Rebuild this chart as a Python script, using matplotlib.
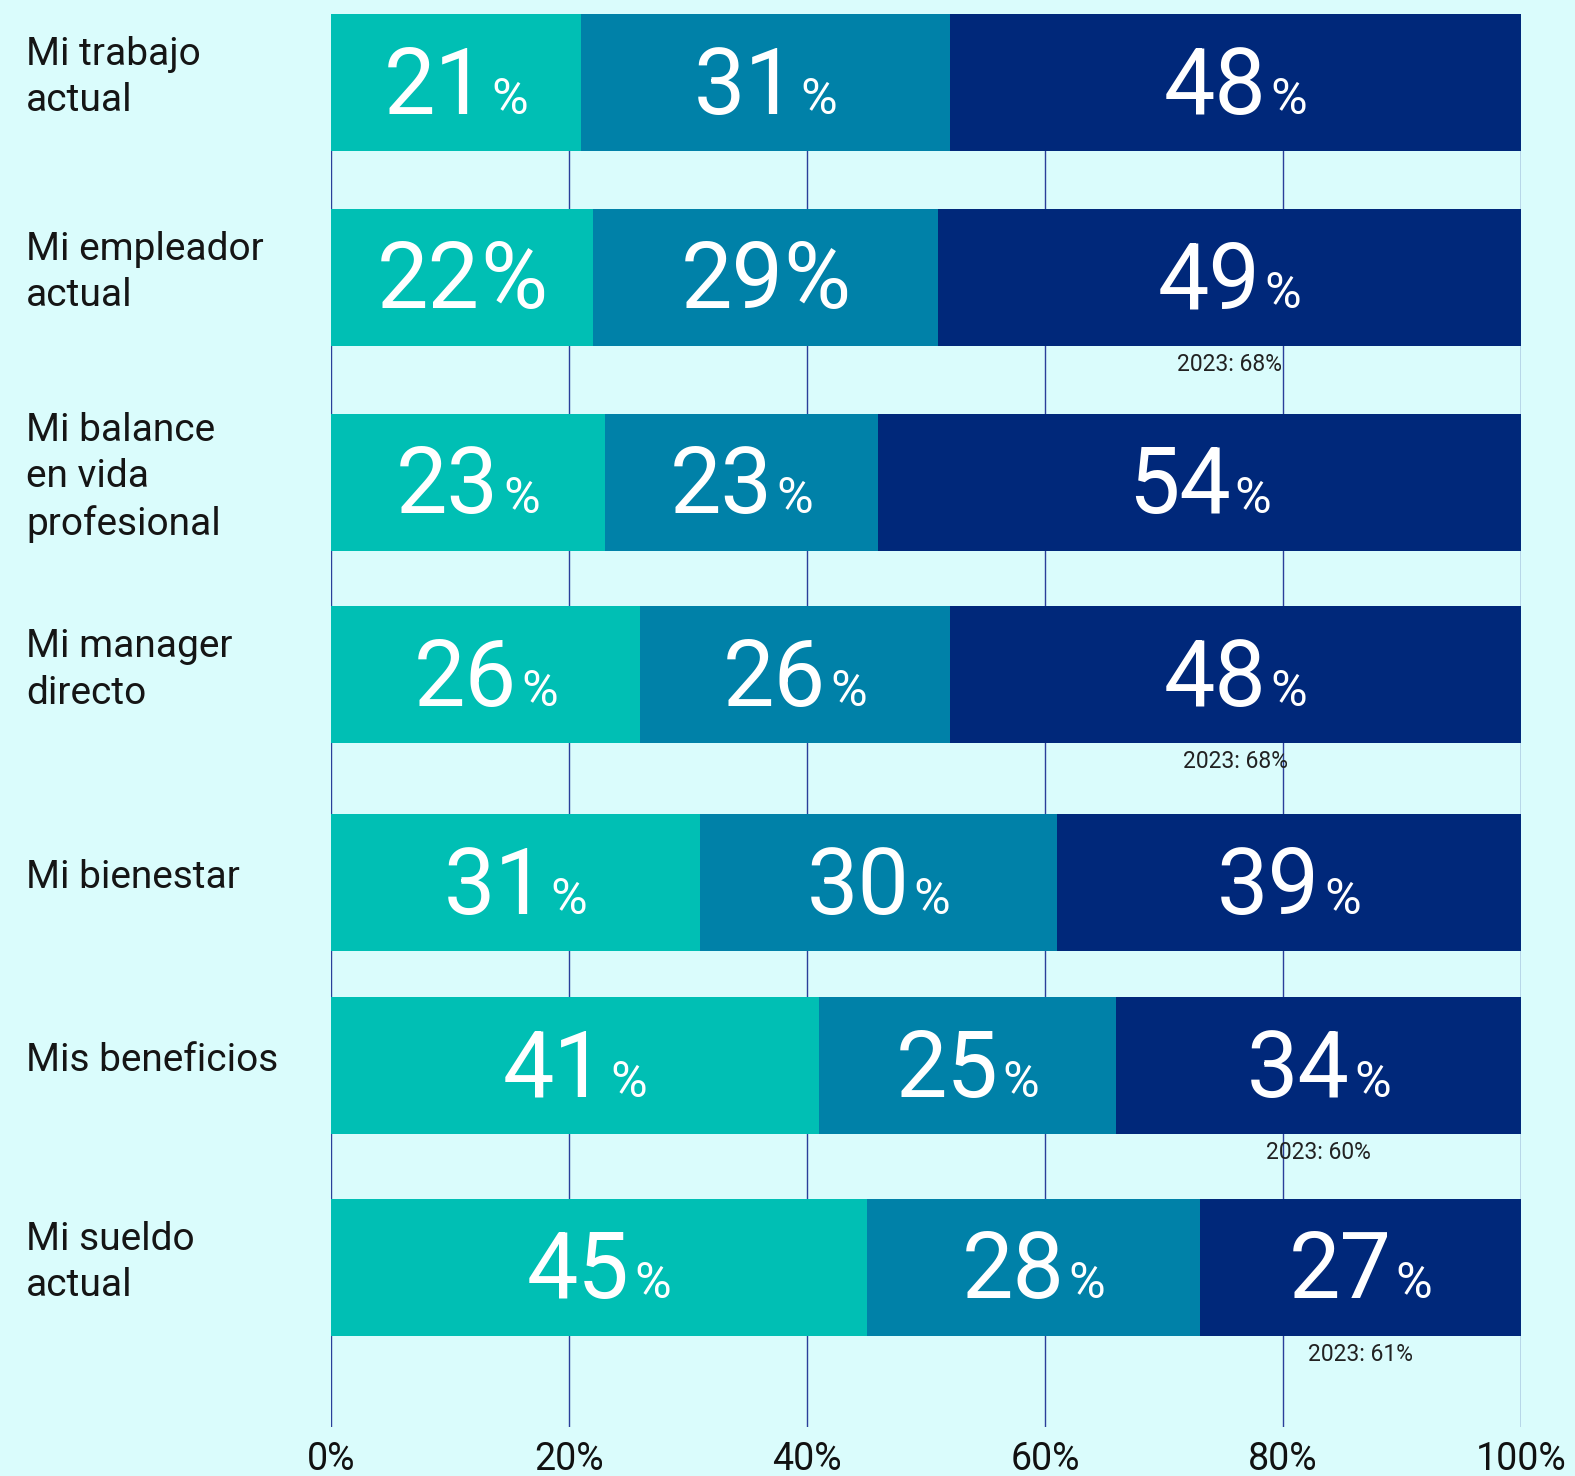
import matplotlib.pyplot as plt
import numpy as np
from matplotlib.offsetbox import TextArea, HPacker, AnnotationBbox

# data
categories = ['Mi trabajo\nactual', 'Mi empleador\nactual', 'Mi balance\nen vida\nprofesional',
              'Mi manager\ndirecto', 'Mi bienestar', 'Mis beneficios', 'Mi sueldo\nactual']
seg_low = [21, 22, 23, 26, 31, 41, 45]
seg_mid = [31, 29, 23, 26, 30, 25, 28]
seg_high = [48, 49, 54, 48, 39, 34, 27]
prev_year = [None, '2023: 68%', None, '2023: 68%', None, '2023: 60%', '2023: 61%']
x_ticks = [0, 20, 40, 60, 80, 100]

# layout: rows are not evenly spaced in the source
row_pos = [0, 0.987, 2.025, 3.0, 4.053, 4.98, 6.0]

colors = ['#00BFB4', '#0081A8', '#00287A']
bg = '#DAFCFC'
grid_color = '#2A3F9A'
FONT = 'Roboto'

fig = plt.figure(figsize=(15.75, 14.76), dpi=100)
fig.patch.set_facecolor(bg)
ax = fig.add_axes([331 / 1575, 1 - 1427 / 1476, 1190 / 1575, 1413 / 1476])
ax.set_facecolor(bg)

y = np.array(row_pos)
bar_h = 137 / 197.5

low = np.array(seg_low)
mid = np.array(seg_mid)
high = np.array(seg_high)
segments = [(low, np.zeros(len(low))), (mid, low), (high, low + mid)]

for k, (vals, left) in enumerate(segments):
    ax.barh(y, vals, left=left, height=bar_h, color=colors[k], zorder=3)

for xt in x_ticks:
    ax.axvline(xt, color=grid_color, lw=1, zorder=1)

ax.set_xlim(0, 100)
ax.set_ylim(6.81, -0.347)
ax.set_xticks(x_ticks)
ax.set_xticklabels([f'{t}%' for t in x_ticks], fontsize=27, family=FONT, color='#111111')
ax.tick_params(axis='x', length=0, pad=10)
ax.set_yticks([])
for s in ax.spines.values():
    s.set_visible(False)

# value labels: big number + smaller percent sign
for i in range(len(categories)):
    for k, (vals, left) in enumerate(segments):
        v = vals[i]
        cx = left[i] + v / 2
        big = TextArea(str(v), textprops=dict(color='white', fontsize=66, family=FONT))
        if i == 1 and k < 2:
            # this row uses a full size % sign in the source
            pct = TextArea('%', textprops=dict(color='white', fontsize=66, family=FONT))
            sep = 0
        else:
            pct = TextArea('%', textprops=dict(color='white', fontsize=36, family=FONT))
            sep = 3
        box = HPacker(children=[big, pct], align='baseline', pad=0, sep=sep)
        ab = AnnotationBbox(box, (cx, y[i]), xybox=(0, -4), boxcoords='offset points',
                            xycoords='data', frameon=False,
                            box_alignment=(0.5, 0.5), pad=0, zorder=5)
        ax.add_artist(ab)

    if prev_year[i]:
        cx = low[i] + mid[i] + high[i] / 2
        ax.annotate(prev_year[i], (cx, y[i] + bar_h / 2), xytext=(0, -5),
                    textcoords='offset points', ha='center', va='top',
                    fontsize=16.5, family=FONT, color='#222222', zorder=5)

# category labels
for i, cat in enumerate(categories):
    ax.annotate(cat, (0, y[i]), xycoords=('figure fraction', 'data'),
                xytext=(26 * 0.72, 3.5), textcoords='offset points',
                ha='left', va='center', fontsize=28, family=FONT,
                color='#151515', linespacing=1.32, annotation_clip=False)

fig.savefig('out.png', dpi=100, facecolor=bg)
